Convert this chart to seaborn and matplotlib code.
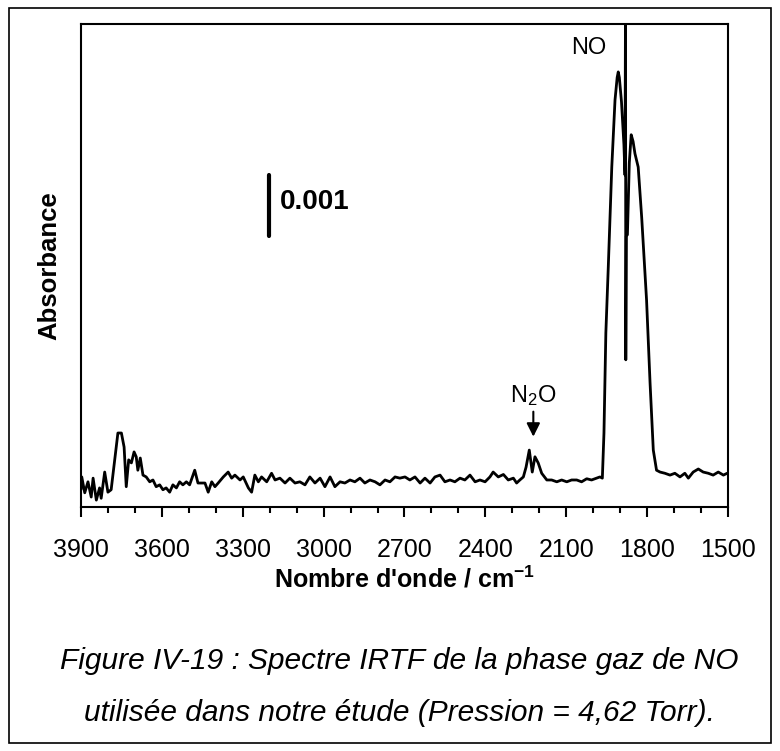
import numpy as np
import pandas as pd
import matplotlib
matplotlib.use("Agg")
import matplotlib.pyplot as plt
from matplotlib.patches import Rectangle
from matplotlib.ticker import MultipleLocator
import seaborn as sns

# Style
sns.set_style("ticks")
plt.rcParams['font.family'] = ['Liberation Sans', 'DejaVu Sans']
plt.rcParams['mathtext.fontset'] = 'custom'
plt.rcParams['mathtext.rm'] = 'Liberation Sans'
plt.rcParams['mathtext.it'] = 'Liberation Sans:italic'
plt.rcParams['mathtext.bf'] = 'Liberation Sans:bold'
plt.rcParams['text.color'] = 'black'
plt.rcParams['axes.labelcolor'] = 'black'
plt.rcParams['xtick.color'] = 'black'

# Spectrum (wavenumber in cm-1, absorbance in units of 1e-4)
wavenumber = [
    3900, 3897, 3886, 3874, 3862, 3855, 3843, 3831, 3825, 3812, 3800, 3788,
    3775, 3763, 3750, 3740, 3732, 3723, 3713, 3703, 3695, 3689, 3680, 3670,
    3658, 3645, 3633, 3621, 3608, 3596, 3584, 3571, 3559, 3546, 3534, 3522,
    3509, 3497, 3478, 3466, 3440, 3428, 3415, 3403, 3391, 3372, 3354, 3341,
    3329, 3310, 3298, 3279, 3267, 3255, 3242, 3230, 3211, 3193, 3180, 3162,
    3143, 3125, 3106, 3088, 3069, 3051, 3032, 3013, 2995, 2976, 2958, 2939,
    2921, 2902, 2884, 2865, 2847, 2828, 2809, 2791, 2772, 2754, 2735, 2717,
    2698, 2680, 2661, 2642, 2624, 2605, 2587, 2568, 2550, 2531, 2513, 2494,
    2476, 2457, 2438, 2420, 2401, 2383, 2371, 2352, 2333, 2315, 2296, 2284,
    2272, 2259, 2249, 2237, 2226, 2216, 2204, 2191, 2172, 2154, 2135, 2117,
    2098, 2080, 2061, 2043, 2024, 2006, 1987, 1975, 1966, 1960, 1953, 1944,
    1931, 1919, 1911, 1907, 1903, 1895, 1886, 1882, 1880, 1879, 1877, 1873,
    1866, 1859, 1852, 1845, 1833, 1820, 1802, 1789, 1777, 1765, 1752, 1734,
    1715, 1697, 1678, 1660, 1647, 1629, 1610, 1592, 1573, 1555, 1536, 1517,
    1503, 1500,
]
absorbance_e4 = [
    -1.6, 0.5, -2.1, -0.3, -2.8, 0.3, -3.3, -1.3, -3.0, 1.3, -2.0, -1.6,
    3.3, 7.7, 7.7, 5.4, -1.1, 3.3, 2.8, 4.6, 3.8, 1.6, 3.6, 0.8,
    0.5, -0.3, 0.0, -1.1, -0.8, -1.6, -1.3, -2.0, -0.8, -1.3, -0.3, -0.8,
    -0.3, -0.8, 1.6, -0.5, -0.5, -2.0, -0.3, -1.1, -0.5, 0.5, 1.3, 0.3,
    0.8, 0.0, 0.5, -1.3, -2.0, 0.8, -0.3, 0.5, -0.3, 1.1, 0.0, 0.3,
    -0.5, 0.3, -0.5, -0.3, -0.8, 0.5, -0.5, 0.3, -1.1, 0.5, -1.1, -0.3,
    -0.5, 0.0, -0.3, 0.3, -0.5, 0.0, -0.3, -0.8, 0.0, -0.3, 0.5, 0.3,
    0.5, 0.0, 0.5, -0.5, 0.3, -0.5, 0.5, 0.8, -0.3, 0.0, -0.3, 0.3,
    0.0, 0.8, -0.3, 0.0, -0.3, 0.5, 1.3, 0.5, 0.9, 0.0, 0.3, -0.5,
    0.0, 0.5, 2.1, 4.9, 1.3, 3.8, 2.8, 1.1, 0.0, 0.0, -0.3, 0.0,
    -0.3, 0.0, 0.0, -0.3, 0.2, 0.0, 0.3, 0.5, 0.3, 7.7, 24.1, 34.9,
    51.3, 62.3, 66.0, 66.9, 66.0, 62.0, 55.0, 50.0, 80.0, 19.7, 40.0, 40.2,
    52.0, 56.6, 55.5, 53.5, 51.3, 43.0, 29.5, 15.9, 4.9, 1.6, 1.3, 1.1,
    0.8, 1.1, 0.5, 1.1, 0.3, 1.3, 1.8, 1.3, 1.1, 0.8, 1.3, 0.8,
    1.1, 1.0,
]
scale_bar = 0.001
caption = ["Figure IV-19 : Spectre IRTF de la phase gaz de NO",
           "utilisée dans notre étude (Pression = 4,62 Torr)."]

df = pd.DataFrame({"wavenumber": wavenumber,
                   "absorbance": np.array(absorbance_e4) * 1e-4})

fig = plt.figure(figsize=(7.8, 7.51), dpi=100)
ax = fig.add_axes([0.1038, 0.3249, 0.8295, 0.6431])

sns.lineplot(data=df, x="wavenumber", y="absorbance", color="black",
             linewidth=2.0, sort=False, estimator=None, ax=ax)

ax.set_xlim(3900, 1500)
ax.set_ylim(-0.000443, 0.007475)
ax.xaxis.set_major_locator(MultipleLocator(300))
ax.xaxis.set_minor_locator(MultipleLocator(100))
ax.tick_params(axis="x", which="major", direction="out", length=7, width=1.5,
               labelsize=18, pad=15, color="black", labelcolor="black")
ax.tick_params(axis="x", which="minor", direction="out", length=4.5, width=1.5,
               color="black")
ax.set_yticks([])
for sp in ax.spines.values():
    sp.set_visible(True)
    sp.set_linewidth(1.5)
    sp.set_color("black")

ax.set_xlabel(r"Nombre d'onde / cm$^{\mathbf{-1}}$", fontsize=18,
              fontweight="bold", labelpad=3)
ax.set_ylabel("Absorbance", fontsize=18.5, fontweight="bold", labelpad=14)

# Scale bar
ax.plot([3203, 3203], [0.0040, 0.0040 + scale_bar], color="black", lw=3,
        solid_capstyle="round")
ax.text(3162, 0.00456, f"{scale_bar:.3f}", fontsize=20, fontweight="bold",
        ha="left", va="center")

# Labels
ax.text(2016, 0.00708, "NO", fontsize=17, ha="center", va="center")
ax.text(2222, 0.00139, r"N$_2$O", fontsize=17, ha="center", va="center")
ax.annotate("", xy=(2222, 0.00071), xytext=(2222, 0.00112),
            arrowprops=dict(arrowstyle="-|>", color="black", lw=1.5,
                            mutation_scale=20, shrinkA=0, shrinkB=0))

# Caption and outer frame
fig.text(0.512, 1 - 661 / 751, caption[0], fontsize=21.5, style="italic",
         ha="center", va="center")
fig.text(0.512, 1 - 713 / 751, caption[1], fontsize=21.5, style="italic",
         ha="center", va="center")
fig.patches.append(Rectangle((9 / 780, 8 / 751), 762 / 780, 735 / 751,
                             transform=fig.transFigure, fill=False,
                             lw=1.2, ec="black"))

fig.savefig("out.png", dpi=100)
plt.close(fig)
